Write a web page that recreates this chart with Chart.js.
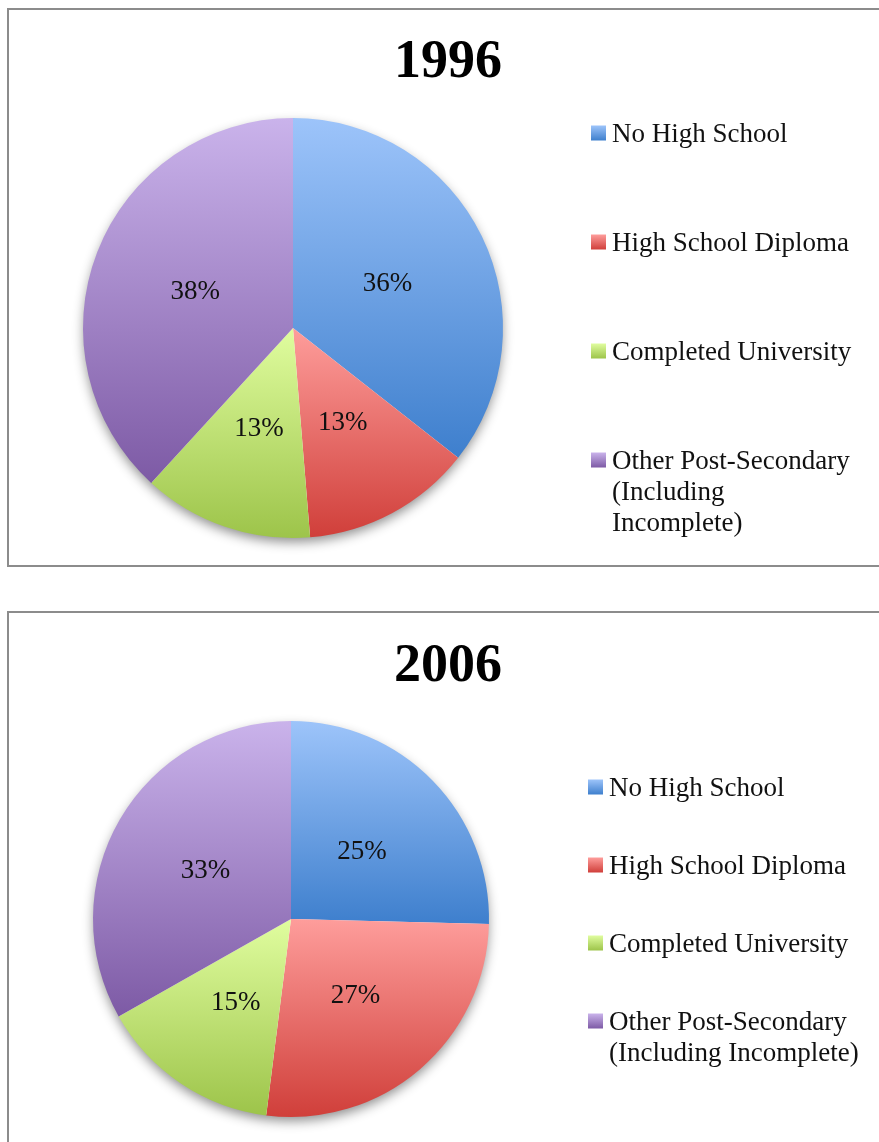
<!DOCTYPE html>
<html>
<head>
<meta charset="utf-8">
<script src="https://cdn.jsdelivr.net/npm/chart.js@4"></script>
<style>
  body { margin: 0; width: 879px; height: 1142px; overflow: hidden; background: #fff; position: relative; }
  .frame { position: absolute; left: 7px; width: 900px; border: 2px solid #8c8c8c; }
  canvas { position: absolute; left: 0; }
</style>
</head>
<body>
<div class="frame" style="top:8px; height:555px"></div>
<div class="frame" style="top:611px; height:600px"></div>
<canvas id="c1996" width="879" height="580" style="top:0"></canvas>
<canvas id="c2006" width="879" height="542" style="top:600px"></canvas>
<script>
// data (percent of population)
const categories = ['No High School', 'High School Diploma', 'Completed University', 'Other Post-Secondary (Including Incomplete)'];
const share1996 = [35.6, 13.1, 13.1, 38.2];
const share2006 = [25.4, 26.6, 14.8, 33.2];

// each slice fades from a light top to a darker bottom
const lightColors = ['#9dc4fa', '#fe9d9b', '#e0fd9f', '#cab3eb'];
const darkColors = ['#3e7fcd', '#d03f3a', '#9dc44a', '#7d5aa5'];

const serif = '"Liberation Serif", "Times New Roman", serif';

function inRange(a, s, e) {
  for (let k = -2; k <= 2; k++) {
    const t = a + 2 * Math.PI * k;
    if (t >= s && t <= e) return true;
  }
  return false;
}

// vertical gradient spanning the slice's own height
function sliceFill(c) {
  const chart = c.chart, area = chart.chartArea;
  if (!area || c.type !== 'data') return lightColors[c.dataIndex];
  const data = c.dataset.data;
  const total = data.reduce((s, v) => s + v, 0);
  let before = 0;
  for (let k = 0; k < c.dataIndex; k++) before += data[k];
  const s = -Math.PI / 2 + 2 * Math.PI * before / total;
  const e = s + 2 * Math.PI * data[c.dataIndex] / total;
  const cy = (area.top + area.bottom) / 2;
  const r = Math.min(area.width, area.height) / 2;
  const ys = [cy, cy + r * Math.sin(s), cy + r * Math.sin(e)];
  if (inRange(Math.PI / 2, s, e)) ys.push(cy + r);
  if (inRange(-Math.PI / 2, s, e)) ys.push(cy - r);
  const g = chart.ctx.createLinearGradient(0, Math.min(...ys), 0, Math.max(...ys));
  g.addColorStop(0, lightColors[c.dataIndex]);
  g.addColorStop(1, darkColors[c.dataIndex]);
  return g;
}

function wrapText(ctx, text, maxW) {
  const words = text.split(' ');
  const lines = [];
  let line = '';
  words.forEach(w => {
    const test = line ? line + ' ' + w : w;
    if (line && ctx.measureText(test).width > maxW) {
      lines.push(line);
      line = w;
    } else {
      line = test;
    }
  });
  lines.push(line);
  return lines;
}

const piePlugin = {
  id: 'piePlugin',
  beforeDatasetsDraw(chart) {
    // soft drop shadow under the pie
    const a = chart.getDatasetMeta(0).data[0];
    const ctx = chart.ctx;
    ctx.save();
    ctx.shadowColor = 'rgba(0,0,0,0.45)';
    ctx.shadowBlur = 12;
    ctx.shadowOffsetY = 5;
    ctx.fillStyle = '#fff';
    ctx.beginPath();
    ctx.arc(a.x, a.y, a.outerRadius - 1, 0, Math.PI * 2);
    ctx.fill();
    ctx.restore();
  },
  afterDatasetsDraw(chart, args, opts) {
    const ctx = chart.ctx;
    const meta = chart.getDatasetMeta(0);
    const values = chart.data.datasets[0].data;
    ctx.save();

    // percentage labels
    ctx.font = '27px ' + serif;
    ctx.fillStyle = '#111';
    ctx.textAlign = 'center';
    ctx.textBaseline = 'middle';
    meta.data.forEach((arc, i) => {
      const p = arc.getCenterPoint();
      ctx.fillText(Math.round(values[i]) + '%', p.x, p.y + 2);
    });

    // title
    ctx.font = 'bold 54px ' + serif;
    ctx.fillStyle = '#000';
    ctx.textBaseline = 'alphabetic';
    ctx.fillText(opts.title, opts.titleX, opts.titleY);

    // legend
    ctx.font = '27px ' + serif;
    ctx.textAlign = 'left';
    ctx.textBaseline = 'middle';
    chart.data.labels.forEach((label, i) => {
      const y = opts.legendY + i * opts.legendGap;
      const g = ctx.createLinearGradient(0, y - 7.5, 0, y + 7.5);
      g.addColorStop(0, lightColors[i]);
      g.addColorStop(1, darkColors[i]);
      ctx.fillStyle = g;
      ctx.fillRect(opts.legendX, y - 7.5, 15, 15);
      ctx.fillStyle = '#111';
      wrapText(ctx, label, opts.wrapWidth).forEach((line, j) => {
        ctx.fillText(line, opts.legendX + 21, y + 2 + j * 31);
      });
    });
    ctx.restore();
  }
};

function makePie(id, title, values, pad, legend) {
  new Chart(document.getElementById(id), {
    type: 'pie',
    data: {
      labels: categories,
      datasets: [{
        data: values,
        backgroundColor: sliceFill,
        borderWidth: 0
      }]
    },
    options: {
      responsive: false,
      animation: false,
      layout: { padding: pad },
      plugins: {
        legend: { display: false },
        title: { display: false },
        tooltip: { enabled: false },
        piePlugin: Object.assign({ title: title, titleX: 448 }, legend)
      }
    },
    plugins: [piePlugin]
  });
}

makePie('c1996', '1996', share1996,
  { left: 83, right: 376, top: 118, bottom: 42 },
  { titleY: 77, legendX: 591, legendY: 133, legendGap: 109, wrapWidth: 245 });

makePie('c2006', '2006', share2006,
  { left: 93, right: 390, top: 121, bottom: 25 },
  { titleY: 81, legendX: 588, legendY: 187, legendGap: 78, wrapWidth: 262 });
</script>
</body>
</html>
